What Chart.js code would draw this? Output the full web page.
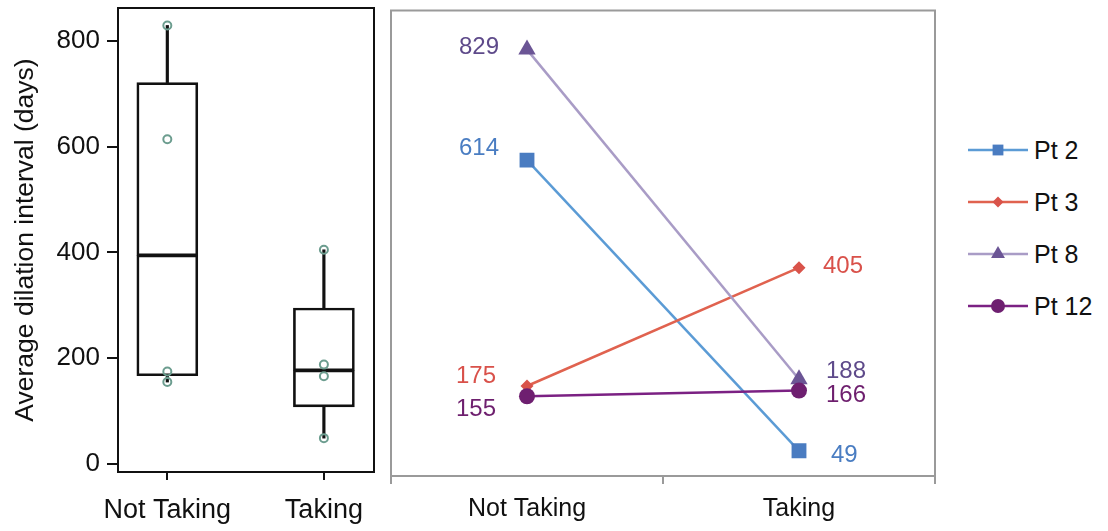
<!DOCTYPE html>
<html>
<head>
<meta charset="utf-8">
<script src="https://cdn.jsdelivr.net/npm/chart.js@4.4.1/dist/chart.umd.min.js"></script>
<style>
  html, body { margin: 0; padding: 0; background: #fff; }
  #page { position: relative; width: 1108px; height: 531px; overflow: hidden; background: #fff;
          font-family: "Liberation Sans", Arial, Helvetica, sans-serif; }
  #boxWrap { position: absolute; left: 0; top: 0; width: 380px; height: 531px; }
  #lineWrap { position: absolute; left: 380px; top: 0; width: 570px; height: 531px; }
  #legend { position: absolute; left: 966px; top: 0; }
  .item { position: absolute; left: 0; height: 30px; display: flex; align-items: center; white-space: nowrap; }
  .item svg { display: block; }
  .item span { font-size: 25px; color: #111; margin-left: 4px; }
</style>
</head>
<body>
<div id="page">
  <div id="boxWrap"><canvas id="boxChart"></canvas></div>
  <div id="lineWrap"><canvas id="lineChart"></canvas></div>
  <div id="legend"></div>
</div>
<script>
// ---- data ----
const categories = ['Not Taking', 'Taking'];
const yTicks = [0, 200, 400, 600, 800];

// box plot summaries per group
const boxQ1 = [167, 108];
const boxMedian = [394.5, 177];
const boxQ3 = [721, 295];
const whiskerLow = [155, 49];
const whiskerHigh = [829, 405];

// individual observations per group
const notTakingValues = [829, 614, 175, 155];
const takingValues = [405, 188, 166, 49];

// paired values per patient (Not Taking, Taking)
const patients = ['Pt 2', 'Pt 3', 'Pt 8', 'Pt 12'];
const pt2 = [614, 49];
const pt3 = [175, 405];
const pt8 = [829, 188];
const pt12 = [155, 166];

// ---- styling ----
const FONT = '"Liberation Sans", Arial, Helvetica, sans-serif';
const seriesStyle = [
  { line: '#5b9bd5', marker: '#4a7cc1', text: '#4a7dc2', shape: 'rect',     radius: 10.5, legendRadius: 7.5, order: 4 },
  { line: '#e0624f', marker: '#d9534a', text: '#d9514a', shape: 'rectRot',  radius: 6.5,  legendRadius: 5.5, order: 3 },
  { line: '#a99cc6', marker: '#6b5595', text: '#5e4a8a', shape: 'triangle', radius: 10,   legendRadius: 8,   order: 2 },
  { line: '#7b2183', marker: '#6e1f70', text: '#6e1f6e', shape: 'circle',   radius: 8,    legendRadius: 7,   order: 1 }
];
// value label placement relative to each point: [dx, dy] for Not Taking, Taking
const labelNudge = [
  [[-28, -12], [32, 5]],
  [[-31, -10], [24, -1]],
  [[-28, -2], [27, -8]],
  [[-31, 13], [27, 5]]
];

// strokes the plot frame around the chart area
const framePlugin = {
  id: 'frame',
  afterDatasetsDraw(chart, args, opts) {
    const { ctx, chartArea: a } = chart;
    ctx.save();
    ctx.strokeStyle = opts.color;
    ctx.lineWidth = opts.width;
    ctx.strokeRect(a.left, a.top, a.right - a.left, a.bottom - a.top);
    ctx.restore();
  }
};

// ---- left: box plot ----
const obsByGroup = [notTakingValues, takingValues];
const boxLower = categories.map((c, i) => ({ x: i, y: [boxQ1[i], boxMedian[i]] }));
const boxUpper = categories.map((c, i) => ({ x: i, y: [boxMedian[i], boxQ3[i]] }));
const whiskTop = categories.map((c, i) => ({ x: i, y: [boxQ3[i], whiskerHigh[i]] }));
const whiskBot = categories.map((c, i) => ({ x: i, y: [whiskerLow[i], boxQ1[i]] }));
const obsPoints = [];
obsByGroup.forEach((vals, i) => vals.forEach(v => obsPoints.push({ x: i, y: v })));

const boxBar = (data, bw) => ({
  type: 'bar', data, grouped: false, barThickness: 61,
  backgroundColor: 'rgba(0,0,0,0)', borderColor: '#111', borderWidth: bw, borderSkipped: false, order: 2
});
const whiskerBar = (data) => ({
  type: 'bar', data, grouped: false, barThickness: 2.5,
  backgroundColor: '#111', borderWidth: 0, order: 3
});

new Chart(document.getElementById('boxChart'), {
  type: 'bar',
  data: {
    datasets: [
      { type: 'scatter', data: obsPoints, pointRadius: 4, pointBorderWidth: 2,
        pointBorderColor: '#6c9d8f', pointBackgroundColor: 'rgba(0,0,0,0)', order: 0 },
      boxBar(boxLower, { top: 1.5, bottom: 2, left: 2, right: 2 }),
      boxBar(boxUpper, { top: 2, bottom: 1.5, left: 2, right: 2 }),
      whiskerBar(whiskTop),
      whiskerBar(whiskBot)
    ]
  },
  options: {
    responsive: true, maintainAspectRatio: false, animation: false,
    layout: { padding: { left: 0, top: 8, right: 6, bottom: 0 } },
    plugins: { legend: { display: false }, tooltip: { enabled: false }, frame: { color: '#111', width: 2 } },
    scales: {
      x: {
        type: 'linear', min: -0.315, max: 1.32, offset: false,
        afterBuildTicks: (s) => { s.ticks = categories.map((c, i) => ({ value: i })); },
        afterFit: (s) => { s.height = 59; s.paddingLeft = 0; s.paddingRight = 0; },
        ticks: { callback: (v) => categories[v], font: { family: FONT, size: 27 }, color: '#111', padding: 14, maxRotation: 0, autoSkip: false },
        grid: { offset: false, drawOnChartArea: false, drawTicks: true, tickLength: 8, color: '#111', lineWidth: 2 },
        border: { display: false }
      },
      y: {
        min: -15, max: 862,
        afterBuildTicks: (s) => { s.ticks = yTicks.map(v => ({ value: v })); },
        afterFit: (s) => { s.width = 118; s.paddingTop = 0; s.paddingBottom = 0; },
        ticks: { font: { family: FONT, size: 26 }, color: '#111', padding: 7 },
        grid: { drawOnChartArea: false, drawTicks: true, tickLength: 11, color: '#111', lineWidth: 2 },
        border: { display: false },
        title: { display: true, text: 'Average dilation interval (days)', font: { family: FONT, size: 26.5 }, color: '#111', padding: { top: 10, bottom: 0 } }
      }
    }
  },
  plugins: [framePlugin]
});

// ---- right: paired lines ----
const seriesValues = [pt2, pt3, pt8, pt12];

// writes each point's value beside it
const valueLabelPlugin = {
  id: 'valueLabels',
  afterDatasetsDraw(chart) {
    const { ctx } = chart;
    ctx.save();
    ctx.font = '24px ' + FONT;
    ctx.textBaseline = 'middle';
    chart.data.datasets.forEach((ds, si) => {
      const meta = chart.getDatasetMeta(si);
      meta.data.forEach((pt, i) => {
        const [dx, dy] = labelNudge[si][i];
        ctx.fillStyle = seriesStyle[si].text;
        ctx.textAlign = dx < 0 ? 'right' : 'left';
        ctx.fillText(String(ds.data[i]), pt.x + dx, pt.y + dy);
      });
    });
    ctx.restore();
  }
};

new Chart(document.getElementById('lineChart'), {
  type: 'line',
  data: {
    labels: categories,
    datasets: patients.map((name, si) => ({
      label: name,
      data: seriesValues[si],
      borderColor: seriesStyle[si].line,
      borderWidth: 2.5,
      pointStyle: seriesStyle[si].shape,
      pointRadius: seriesStyle[si].radius,
      pointBackgroundColor: seriesStyle[si].marker,
      pointBorderColor: seriesStyle[si].marker,
      pointBorderWidth: 0,
      fill: false,
      tension: 0,
      order: seriesStyle[si].order
    }))
  },
  options: {
    responsive: true, maintainAspectRatio: false, animation: false,
    layout: { padding: { left: 11, top: 8, right: 15, bottom: 0 } },
    plugins: { legend: { display: false }, tooltip: { enabled: false }, frame: { color: '#9a9a9a', width: 2 } },
    scales: {
      x: {
        offset: true,
        afterFit: (s) => { s.height = 55; },
        ticks: { font: { family: FONT, size: 25 }, color: '#111', padding: 10, maxRotation: 0 },
        grid: { offset: true, drawOnChartArea: false, drawTicks: true, tickLength: 8, color: '#9a9a9a', lineWidth: 2 },
        border: { display: false }
      },
      y: { display: false, min: 0, max: 905 }
    }
  },
  plugins: [framePlugin, valueLabelPlugin]
});

// ---- legend ----
const legendTops = [150, 202, 254, 306];
const legendEl = document.getElementById('legend');
function markerSvg(st) {
  const cx = 32, cy = 15, r = st.legendRadius;
  let m = '';
  if (st.shape === 'rect') m = `<rect x="${cx - r * 0.72}" y="${cy - r * 0.72}" width="${r * 1.44}" height="${r * 1.44}" fill="${st.marker}"/>`;
  else if (st.shape === 'rectRot') m = `<polygon points="${cx - r},${cy} ${cx},${cy - r} ${cx + r},${cy} ${cx},${cy + r}" fill="${st.marker}"/>`;
  else if (st.shape === 'triangle') m = `<polygon points="${cx},${cy - r} ${cx + r * 0.87},${cy + r * 0.5} ${cx - r * 0.87},${cy + r * 0.5}" fill="${st.marker}"/>`;
  else m = `<circle cx="${cx}" cy="${cy}" r="${r}" fill="${st.marker}"/>`;
  return `<svg width="64" height="30"><line x1="2" y1="${cy}" x2="62" y2="${cy}" stroke="${st.line}" stroke-width="2.5"/>${m}</svg>`;
}
patients.forEach((name, si) => {
  const d = document.createElement('div');
  d.className = 'item';
  d.style.top = (legendTops[si] - 15) + 'px';
  d.innerHTML = markerSvg(seriesStyle[si]) + `<span>${name}</span>`;
  legendEl.appendChild(d);
});
</script>
</body>
</html>
